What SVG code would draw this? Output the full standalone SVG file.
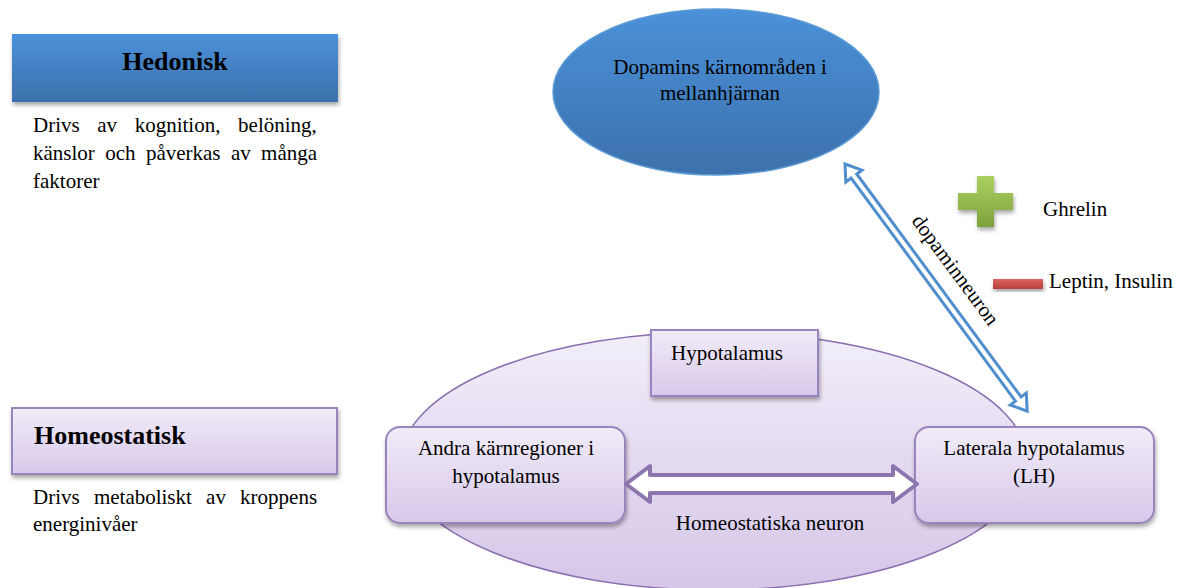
<svg xmlns="http://www.w3.org/2000/svg" width="1181" height="588" viewBox="0 0 1181 588">
<defs>
<linearGradient id="gBlue" x1="0" y1="0" x2="0" y2="1"><stop offset="0" stop-color="#4b91da"/><stop offset="1" stop-color="#3c71ac"/></linearGradient>
<linearGradient id="gPurple" x1="0" y1="0" x2="0" y2="1"><stop offset="0" stop-color="#f1ecf8"/><stop offset="1" stop-color="#d7c8ea"/></linearGradient>
<linearGradient id="gBig" x1="0" y1="0" x2="0" y2="1"><stop offset="0" stop-color="#f2eef9"/><stop offset="1" stop-color="#d5c6e8"/></linearGradient>
<linearGradient id="gGreen" x1="0" y1="0" x2="0" y2="1"><stop offset="0" stop-color="#acd060"/><stop offset="1" stop-color="#7ea23c"/></linearGradient>
<linearGradient id="gRed" x1="0" y1="0" x2="0" y2="1"><stop offset="0" stop-color="#d9625f"/><stop offset="1" stop-color="#b8403d"/></linearGradient>
<filter id="sh" x="-10%" y="-10%" width="125%" height="140%"><feDropShadow dx="1" dy="3" stdDeviation="2" flood-color="#000" flood-opacity="0.35"/></filter>
</defs>
<style>
text{font-family:"Liberation Serif","Times New Roman",serif;fill:#000;font-size:21px}
.title{font-size:26px;font-weight:bold}
.pbox{fill:url(#gPurple);stroke:#9a84bd;stroke-width:2}
</style>

<g id="hedonisk">
<rect x="12" y="34" width="326" height="68" fill="url(#gBlue)" filter="url(#sh)"/>
<text class="title" x="175" y="70" text-anchor="middle">Hedonisk</text>
</g>
<g id="hedonisk-text">
<text y="132"><tspan x="33">Drivs</tspan><tspan x="97.3">av</tspan><tspan x="134.7">kognition,</tspan><tspan x="238.1">belöning,</tspan></text>
<text y="160"><tspan x="33">känslor</tspan><tspan x="105.2">och</tspan><tspan x="145.9">påverkas</tspan><tspan x="230.9">av</tspan><tspan x="261.1">många</tspan></text>
<text x="33" y="188">faktorer</text>
</g>

<g id="homeostatisk">
<rect class="pbox" x="12" y="408" width="325" height="66" filter="url(#sh)"/>
<text class="title" x="34" y="444">Homeostatisk</text>
</g>
<g id="homeostatisk-text">
<text y="504"><tspan x="33">Drivs</tspan><tspan x="93.9">metaboliskt</tspan><tspan x="206.1">av</tspan><tspan x="240.1">kroppens</tspan></text>
<text x="33" y="531">energinivåer</text>
</g>

<g id="dopamin">
<ellipse cx="716" cy="92" rx="163" ry="83" fill="url(#gBlue)" stroke="#5b9bd5" stroke-width="1.5"/>
<text x="720" y="74" text-anchor="middle">Dopamins kärnområden i</text>
<text x="720" y="100" text-anchor="middle">mellanhjärnan</text>
</g>

<g id="hypotalamus-region">
<ellipse cx="714" cy="461" rx="313" ry="129" fill="url(#gBig)" stroke="#8a6fb0" stroke-width="1.5"/>
</g>

<g id="hypotalamus">
<rect class="pbox" x="651" y="330" width="167" height="66" filter="url(#sh)"/>
<text x="727" y="360" text-anchor="middle">Hypotalamus</text>
</g>

<g id="andra">
<rect class="pbox" x="386" y="427" width="239" height="96" rx="14" filter="url(#sh)"/>
<text x="506" y="455" text-anchor="middle">Andra kärnregioner i</text>
<text x="506" y="483" text-anchor="middle">hypotalamus</text>
</g>

<g id="lh">
<rect class="pbox" x="915" y="427" width="239" height="96" rx="14" filter="url(#sh)"/>
<text x="1034" y="455" text-anchor="middle">Laterala hypotalamus</text>
<text x="1034" y="483" text-anchor="middle">(LH)</text>
</g>

<g id="ghrelin">
<path d="M977 176 H994 V193 H1013 V210 H994 V227 H977 V210 H958 V193 H977 Z" fill="url(#gGreen)" filter="url(#sh)"/>
<text x="1043" y="216">Ghrelin</text>
</g>

<g id="leptin">
<rect x="993" y="279" width="50" height="10" fill="url(#gRed)" filter="url(#sh)"/>
<text x="1049" y="288">Leptin, Insulin</text>
</g>

<g id="connectors">
<polygon transform="translate(845,164) rotate(53.6)" points="0,0 15,-10 15,-3.5 292,-3.5 292,-10 307,0 292,10 292,3.5 15,3.5 15,10" fill="#fff" stroke="#4f8fd0" stroke-width="3" stroke-linejoin="miter"/>
<text transform="translate(950,274) rotate(53.6)" text-anchor="middle">dopaminneuron</text>
<polygon points="626,484 650,466 650,475 893,475 893,466 917,484 893,502 893,493 650,493 650,502" fill="#fff" stroke="#8d75ae" stroke-width="4" stroke-linejoin="round"/>
<text x="770" y="530" text-anchor="middle">Homeostatiska neuron</text>
</g>
</svg>
